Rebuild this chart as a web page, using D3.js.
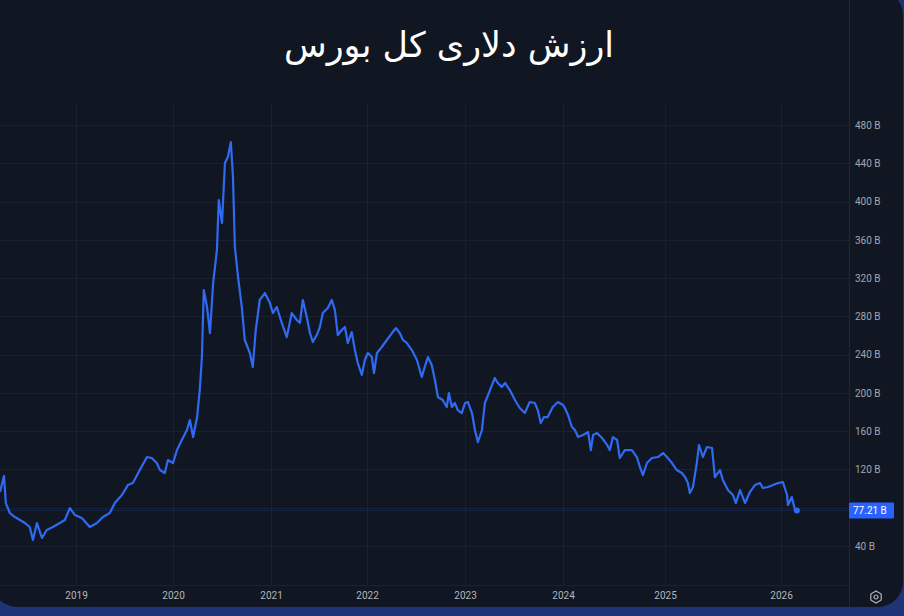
<!DOCTYPE html>
<html>
<head>
<meta charset="utf-8">
<script src="https://cdn.jsdelivr.net/npm/d3@7"></script>
<style>
html, body { margin: 0; padding: 0; background: #1d3577; }
svg { display: block; }
</style>
</head>
<body>
<script>
// Chart data (billions of USD)
const title = "ارزش دلاری کل بورس";
const dates = [
  "2018-03-21","2018-04-05","2018-04-12","2018-04-27","2018-05-16","2018-06-04","2018-06-23","2018-07-11",
  "2018-07-23","2018-08-07","2018-08-26","2018-09-13","2018-10-06","2018-11-01","2018-11-20","2018-12-09",
  "2018-12-28","2019-01-23","2019-02-22","2019-03-21","2019-04-12","2019-05-08","2019-05-27","2019-06-23",
  "2019-07-15","2019-08-03","2019-08-29","2019-09-25","2019-10-13","2019-11-01","2019-11-13","2019-12-01",
  "2019-12-13","2020-01-01","2020-01-16","2020-02-03","2020-02-22","2020-03-04","2020-03-16","2020-03-31",
  "2020-04-10","2020-04-18","2020-04-25","2020-05-07","2020-05-18","2020-05-30","2020-06-13","2020-06-20",
  "2020-07-02","2020-07-13","2020-07-24","2020-08-04","2020-08-12","2020-08-19","2020-08-31","2020-09-14",
  "2020-09-25","2020-10-14","2020-10-25","2020-11-05","2020-11-20","2020-12-09","2020-12-28","2021-01-08",
  "2021-01-23","2021-02-11","2021-03-02","2021-03-21","2021-04-09","2021-04-21","2021-05-02","2021-05-17",
  "2021-05-29","2021-06-09","2021-06-24","2021-07-06","2021-07-17","2021-08-05","2021-08-20","2021-09-01",
  "2021-09-12","2021-09-27","2021-10-09","2021-10-20","2021-11-04","2021-11-16","2021-11-27","2021-12-12",
  "2021-12-24","2022-01-04","2022-01-19","2022-01-27","2022-02-07","2022-02-25","2022-03-16","2022-04-04",
  "2022-04-19","2022-05-03","2022-05-15","2022-05-29","2022-06-17","2022-07-06","2022-07-24","2022-08-04",
  "2022-08-16","2022-08-30","2022-09-11","2022-09-22","2022-10-10","2022-10-25","2022-11-02","2022-11-13",
  "2022-11-24","2022-12-05","2022-12-20","2023-01-01","2023-01-12","2023-01-27","2023-02-07","2023-02-18",
  "2023-03-05","2023-03-16","2023-04-04","2023-04-22","2023-05-03","2023-05-18","2023-05-30","2023-06-17",
  "2023-07-06","2023-07-24","2023-08-12","2023-08-30","2023-09-18","2023-09-29","2023-10-10","2023-10-22",
  "2023-11-05","2023-11-24","2023-12-13","2024-01-01","2024-01-08","2024-01-19","2024-02-02","2024-02-13",
  "2024-02-24","2024-03-13","2024-03-31","2024-04-10","2024-04-18","2024-05-02","2024-05-20","2024-06-07",
  "2024-06-17","2024-06-28","2024-07-13","2024-07-23","2024-08-10","2024-09-04","2024-09-22","2024-10-03",
  "2024-10-14","2024-10-28","2024-11-15","2024-12-07","2024-12-25","2025-01-07","2025-01-23","2025-02-07",
  "2025-02-23","2025-03-05","2025-03-14","2025-03-20","2025-03-30","2025-04-11","2025-04-18","2025-04-30",
  "2025-05-13","2025-05-29","2025-06-07","2025-06-23","2025-07-02","2025-07-18","2025-08-03","2025-08-12",
  "2025-08-25","2025-09-10","2025-09-25","2025-10-11","2025-10-27","2025-11-05","2025-11-21","2025-12-07",
  "2025-12-23","2026-01-07","2026-01-20","2026-01-23","2026-02-04","2026-02-14","2026-02-20"
];
const values = [
  96.4,113.2,84.9,74.5,70.3,67.2,64.0,59.9,
  46.3,64.0,48.4,56.7,59.9,64.0,67.2,79.7,
  72.4,69.3,59.9,64.0,70.3,74.5,84.9,93.3,
  103.7,105.8,119.4,133.0,132.0,126.7,119.4,116.3,
  129.9,126.7,140.3,150.8,161.2,171.7,153.9,174.8,
  203.0,237.5,307.5,289.8,262.6,314.9,349.3,401.6,
  377.6,440.3,446.5,462.2,425.6,352.5,321.1,289.8,
  255.3,241.7,227.1,265.7,297.1,304.4,293.9,283.5,
  289.8,273.1,258.4,283.5,276.2,273.1,297.1,279.3,
  262.6,253.2,260.5,268.9,283.5,288.7,297.1,286.6,
  260.5,265.7,268.9,252.2,263.6,244.8,231.3,218.7,
  234.4,241.7,237.5,220.8,241.7,248.0,255.3,262.6,
  267.8,262.6,255.3,252.2,244.8,234.4,216.6,227.1,
  237.5,229.2,213.5,195.7,192.6,185.3,199.9,185.3,
  189.5,182.1,179.0,189.5,190.5,179.0,161.2,148.7,
  161.2,189.5,203.0,215.6,210.4,206.2,210.4,203.0,
  192.6,184.2,179.0,190.5,189.5,182.1,168.5,174.8,
  174.8,185.3,190.5,187.4,184.2,176.9,164.4,161.2,
  153.9,156.0,159.1,140.3,156.0,158.1,152.9,145.6,
  140.3,153.9,150.8,132.0,140.3,140.3,133.0,122.6,
  114.2,126.7,132.0,133.0,137.2,133.0,126.7,119.4,
  116.3,112.1,105.8,95.4,101.7,126.7,145.6,133.0,
  143.5,142.4,112.1,119.4,109.0,98.5,93.3,84.9,
  98.5,84.9,96.4,103.7,105.8,100.6,101.7,103.7,
  105.8,106.9,93.3,82.8,91.2,77.6,77.21
];
const yTicks = [40, 80, 120, 160, 200, 240, 280, 320, 360, 400, 440, 480];
const xTicks = ["2019", "2020", "2021", "2022", "2023", "2024", "2025", "2026"];
const lastValue = 77.21;

const width = 904, height = 616;
const pane = { left: 0, right: 849, top: 105, bottom: 585 };

const svg = d3.select('body')
    .append('svg')
    .attr('width', width)
    .attr('height', height);

// dark panel on the blue page
svg.append('rect')
    .attr('x', -8).attr('y', -10)
    .attr('width', 911).attr('height', 617)
    .attr('rx', 25)
    .attr('fill', '#111722');

const parse = d3.timeParse('%Y-%m-%d');
const data = dates.map((d, i) => ({ date: parse(d), value: values[i] }));

// time axis is bar based, so the years are not evenly spaced
const yearStarts = d3.range(2018, 2028).map(y => new Date(y, 0, 1));
const x = d3.scaleTime()
    .domain(yearStarts)
    .range([-21, 76, 173, 271, 367, 465, 563, 665, 781, 897]);

const y = d3.scaleLinear()
    .domain([0, 480])
    .range([584.3, 125]);

const tickDates = xTicks.map(t => d3.timeParse('%Y')(t));

// grid
svg.append('g')
    .selectAll('line')
    .data(yTicks)
    .join('line')
    .attr('x1', pane.left).attr('x2', pane.right)
    .attr('y1', d => Math.round(y(d)) + 0.5).attr('y2', d => Math.round(y(d)) + 0.5)
    .attr('stroke', '#1a2030');

svg.append('g')
    .selectAll('line')
    .data(tickDates)
    .join('line')
    .attr('x1', d => Math.round(x(d)) + 0.5).attr('x2', d => Math.round(x(d)) + 0.5)
    .attr('y1', pane.top).attr('y2', pane.bottom)
    .attr('stroke', '#1a2030');

// borders of the price and time scales
svg.append('line')
    .attr('x1', pane.right + 0.5).attr('x2', pane.right + 0.5)
    .attr('y1', 0).attr('y2', 607)
    .attr('stroke', '#222735');
svg.append('line')
    .attr('x1', 0).attr('x2', pane.right)
    .attr('y1', pane.bottom + 0.5).attr('y2', pane.bottom + 0.5)
    .attr('stroke', '#1c2130');

// last price line
svg.append('line')
    .attr('x1', 0).attr('x2', pane.right)
    .attr('y1', y(lastValue)).attr('y2', y(lastValue))
    .attr('stroke', '#2962ff')
    .attr('stroke-opacity', 0.2);

// series
svg.append('path')
    .datum(data)
    .attr('fill', 'none')
    .attr('stroke', '#3069f2')
    .attr('stroke-width', 2.2)
    .attr('stroke-linejoin', 'round')
    .attr('d', d3.line().x(d => x(d.date)).y(d => y(d.value)));

const last = data[data.length - 1];
svg.append('circle')
    .attr('cx', x(last.date)).attr('cy', y(last.value))
    .attr('r', 3)
    .attr('fill', '#3069f2');

// Y axis (the tick hidden under the last value label is left out)
const yAxis = svg.append('g')
    .attr('transform', `translate(${pane.right},0)`)
    .call(d3.axisRight(y)
        .tickValues(yTicks.filter(t => Math.abs(y(t) - y(lastValue)) > 12))
        .tickFormat(d => d + ' B').tickSize(0).tickPadding(6));
yAxis.select('.domain').remove();
yAxis.selectAll('text')
    .attr('fill', '#a3a6af')
    .style('font-family', 'Roboto, sans-serif')
    .style('font-size', '10px');

// X axis
const xAxis = svg.append('g')
    .attr('transform', `translate(0,${pane.bottom})`)
    .call(d3.axisBottom(x).tickValues(tickDates).tickFormat(d3.timeFormat('%Y')).tickSize(0).tickPadding(7));
xAxis.select('.domain').remove();
xAxis.selectAll('text')
    .attr('fill', '#b2b5be')
    .style('font-family', 'Roboto, sans-serif')
    .style('font-size', '10px');

// last value label
svg.append('rect')
    .attr('x', pane.right).attr('y', y(lastValue) - 8)
    .attr('width', 45).attr('height', 16)
    .attr('rx', 1)
    .attr('fill', '#2962ff');
svg.append('text')
    .attr('x', pane.right + 4).attr('y', y(lastValue))
    .attr('dy', '0.35em')
    .attr('fill', '#ffffff')
    .style('font-family', 'Roboto, sans-serif')
    .style('font-size', '10px')
    .text(lastValue + ' B');

// settings icon
const gear = svg.append('g').attr('transform', 'translate(876,597)');
gear.append('path')
    .attr('d', d3.range(6).map((i) => {
        const a = Math.PI / 3 * i - Math.PI / 2;
        return (i ? 'L' : 'M') + (6 * Math.cos(a)).toFixed(2) + ',' + (6 * Math.sin(a)).toFixed(2);
    }).join('') + 'Z')
    .attr('fill', 'none')
    .attr('stroke', '#b2b5be')
    .attr('stroke-width', 1.2);
gear.append('circle')
    .attr('r', 2)
    .attr('fill', 'none')
    .attr('stroke', '#b2b5be')
    .attr('stroke-width', 1.2);

// title
svg.append('text')
    .attr('x', 449).attr('y', 57)
    .attr('text-anchor', 'middle')
    .attr('fill', '#ffffff')
    .style('font-family', '"DejaVu Sans", sans-serif')
    .style('font-size', '35px')
    .text(title);
</script>
</body>
</html>
